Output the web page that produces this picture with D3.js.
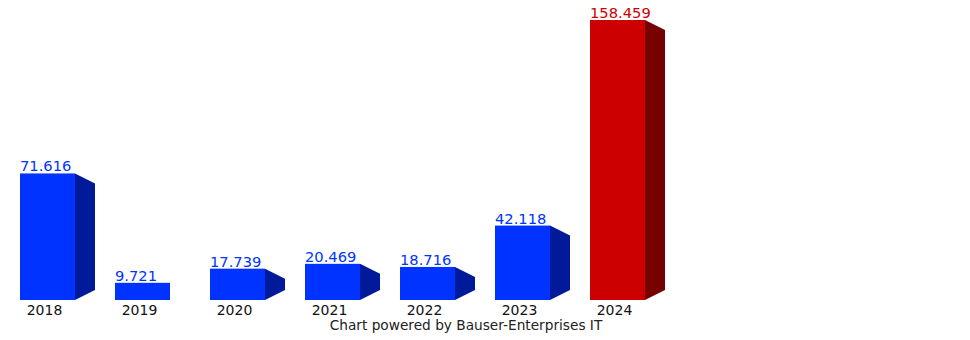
<!DOCTYPE html>
<html>
<head>
<meta charset="utf-8">
<script src="https://cdn.jsdelivr.net/npm/d3@7"></script>
<style>
  body { margin: 0; background: #fff; }
  text { font-family: "DejaVu Sans", Verdana, sans-serif; }
</style>
</head>
<body>
<script>
// chart data
var years = [ "2018", "2019", "2020", "2021", "2022", "2023", "2024" ];
var values = [ 71.616, 9.721, 17.739, 20.469, 18.716, 42.118, 158.459 ];
var highlight = [ false, false, false, false, false, false, true ];

var W = 970, H = 340;
var base = 300, depth = 20, skew = 10;

var svg = d3.select( "body" )
            .append( "svg" )
              .attr( "width", W )
              .attr( "height", H );

// 55px bars on a 95px step
var x = d3.scaleBand()
          .domain( years )
          .range( [ 20, 20 + 95 * years.length - 40 ] )
          .paddingInner( 40 / 95 )
          .paddingOuter( 0 );

var y = d3.scaleLinear()
          .domain( [ 0, d3.max( values ) ] )
          .range( [ base, 20 ] );

var data = years.map( function(d,i){
  return { year: d, value: values[i], hot: highlight[i] };
});

var bw = x.bandwidth();
function bx(d){ return x( d.year ); }

var g = svg.selectAll( "g.bar" )
           .data( data )
           .enter()
           .append( "g" )
             .attr( "class", "bar" );

// side face (perspective trapezoid), hidden when the bar is too short
g.filter( function(d){ return y( d.value ) + skew < base - skew; } )
  .append( "path" )
  .attr( "fill", function(d){ return d.hot ? "#770000" : "#001a99"; } )
  .attr( "d", function(d){
    var x0 = bx(d) + bw, top = y( d.value );
    return "M" + x0 + "," + top +
           "L" + ( x0 + depth ) + "," + ( top + skew ) +
           "L" + ( x0 + depth ) + "," + ( base - skew ) +
           "L" + x0 + "," + base + "Z";
  });

// front face
g.append( "rect" )
  .attr( "x", bx )
  .attr( "y", function(d){ return y( d.value ); } )
  .attr( "width", bw )
  .attr( "height", function(d){ return base - y( d.value ); } )
  .attr( "fill", function(d){ return d.hot ? "#cc0000" : "#0033ff"; } );

// value labels
g.append( "text" )
  .attr( "x", bx )
  .attr( "y", function(d){ return y( d.value ) - 2; } )
  .attr( "font-size", 14.7 )
  .attr( "fill", function(d){ return d.hot ? "#cc0000" : "#0033ff"; } )
  .text( function(d){ return d.value.toFixed( 3 ); } );

// year labels
g.append( "text" )
  .attr( "x", function(d){ return bx(d) + 24.5; } )
  .attr( "y", 315 )
  .attr( "text-anchor", "middle" )
  .attr( "font-size", 14 )
  .attr( "fill", "#111" )
  .text( function(d){ return d.year; } );

svg.append( "text" )
  .attr( "x", 466 )
  .attr( "y", 330 )
  .attr( "text-anchor", "middle" )
  .attr( "font-size", 13.7 )
  .attr( "fill", "#222" )
  .text( "Chart powered by Bauser-Enterprises IT" );
</script>
</body>
</html>
